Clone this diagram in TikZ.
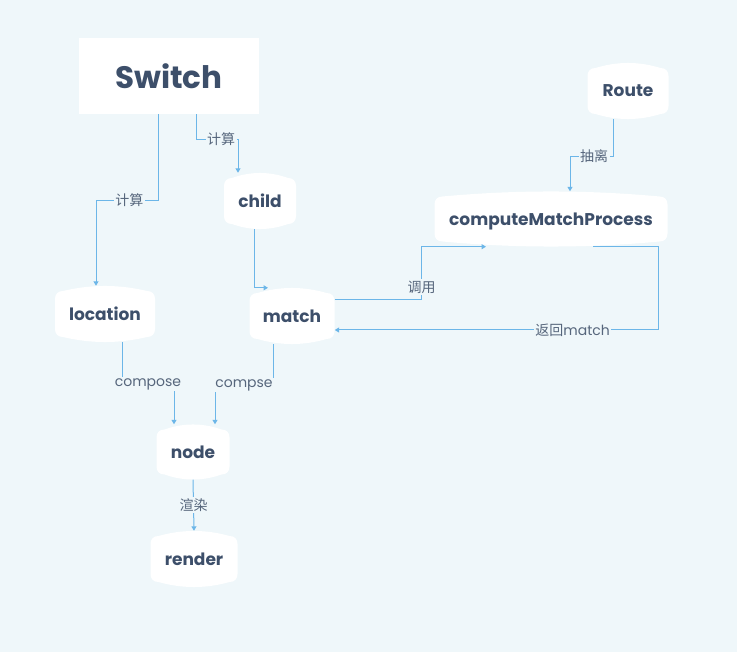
\documentclass[tikz,border=0pt]{standalone}
\usepackage{fontspec}
\setmainfont{Poppins}
\newfontfamily\cjk{Noto Sans CJK SC}
\usetikzlibrary{arrows.meta,calc}
\definecolor{bgc}{HTML}{EFF7FA}
\definecolor{txt}{HTML}{3D4F6A}
\definecolor{lbltxt}{HTML}{56667C}
\definecolor{lnc}{HTML}{6CB6E8}
\tikzset{
  tapebox/.style={inner sep=0pt, text=txt, text depth=0pt, font=\fontsize{17}{19}\selectfont\bfseries},
  conn/.style={draw=lnc, line width=1pt, -{Triangle[width=5pt,length=4.5pt]}},
  lbl/.style={fill=bgc, text=lbltxt, inner sep=1.5pt, font=\fontsize{14}{16}\selectfont},
}
\newcommand\tapenode[6]{%
  \pgfmathsetmacro\tL{#2-#4/2}\pgfmathsetmacro\tR{#2+#4/2}%
  \pgfmathsetmacro\tT{#3-#5/2}\pgfmathsetmacro\tB{#3+#5/2}%
  \pgfmathsetmacro\tA{\tL+8+(#4-16)/3}\pgfmathsetmacro\tC{\tR-8-(#4-16)/3}%
  \fill[white] (\tL,\tT+13) -- (\tL,\tB-13)
    .. controls (\tL,\tB-8) and (\tL+3,\tB-5) .. (\tL+8,\tB-5)
    .. controls (\tA,\tB+1.7) and (\tC,\tB+1.7) .. (\tR-8,\tB-5)
    .. controls (\tR-3,\tB-5) and (\tR,\tB-8) .. (\tR,\tB-13)
    -- (\tR,\tT+13)
    .. controls (\tR,\tT+8) and (\tR-3,\tT+5) .. (\tR-8,\tT+5)
    .. controls (\tC,\tT-1.7) and (\tA,\tT-1.7) .. (\tL+8,\tT+5)
    .. controls (\tL+3,\tT+5) and (\tL,\tT+8) .. (\tL,\tT+13) -- cycle;
  \node[tapebox, minimum width=#4pt, minimum height=#5pt] (#1) at (#2,#3) {#6};%
}
\begin{document}
\begin{tikzpicture}[x=1pt,y=-1pt]
\fill[bgc] (0,0) rectangle (737,652);
\useasboundingbox (0,0) rectangle (737,652);
% Switch
\node[fill=white, minimum width=180pt, minimum height=76pt, inner sep=0pt, text=txt,
      font=\fontsize{31}{34}\selectfont\bfseries] (sw) at (169,76) {Switch};
\tapenode{ch}{260}{201}{72}{56}{child}
\tapenode{lo}{105}{314}{100}{56}{location}
\tapenode{ma}{292}{316}{85}{56}{match}
\tapenode{ro}{628}{91}{81}{56}{Route}
\tapenode{cm}{551}{219}{233}{55}{computeMatchProcess}
\tapenode{no}{193}{452}{73}{55}{node}
\tapenode{re}{194}{559}{87}{56}{render}
% connectors
\draw[conn] ([xshift=-11pt]sw.south) -- ++(0,86) -| node[lbl, pos=0.23] {\cjk 计算} ([xshift=-9pt]lo.north);
\draw[conn] ([xshift=27pt]sw.south) -- ++(0,25) -| node[lbl, pos=0.3] {\cjk 计算} ([xshift=-22pt]ch.north);
\draw[conn] ([xshift=-6pt]ch.south) |- ([xshift=-24pt]ma.north);
\draw[conn] ([yshift=16pt]ma.east) -- ++(87,0) |- node[lbl, pos=0.12] {\cjk 调用} ([xshift=-65pt]cm.south);
\draw[conn] ([xshift=42pt]cm.south) -- ++(65,0) |- node[lbl, pos=0.632] {{\cjk 返回}match} ([yshift=-14pt]ma.east);
\draw[conn] ([xshift=-15pt]ro.south) -- ++(0,37) -| node[lbl, pos=0.22] {\cjk 抽离} ([xshift=19pt]cm.north);
\draw[conn] ([xshift=17pt]lo.south) -- ++(0,42) -| node[lbl, pos=0.25] {compose} ([xshift=-19pt]no.north);
\draw[conn] ([xshift=-19pt]ma.south) -- ++(0,41) -| node[lbl, pos=0.25] {compse} ([xshift=22pt]no.north);
\draw[conn] (no.south) -- node[lbl] {\cjk 渲染} (re.north);
\end{tikzpicture}
\end{document}
